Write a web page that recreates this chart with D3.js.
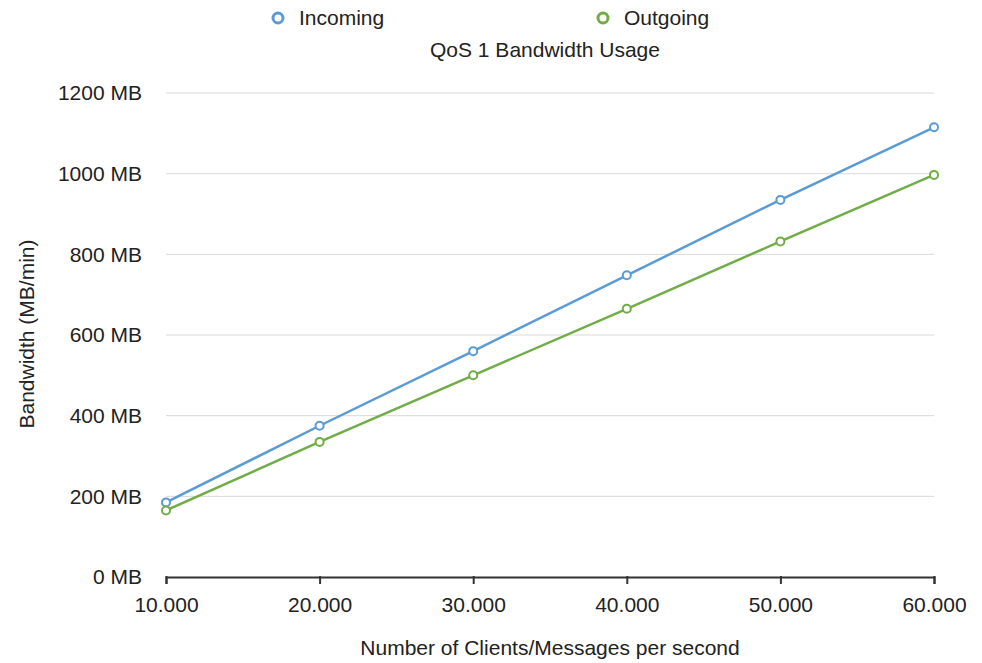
<!DOCTYPE html>
<html><head><meta charset="utf-8">
<script src="https://cdn.jsdelivr.net/npm/d3@7"></script>
<style>body{margin:0;background:#fff;} text{font-family:"Liberation Sans",Arial,sans-serif;fill:#222;}</style>
</head><body><svg id="c" width="982" height="663"></svg>
<script>
const categories = [10000, 20000, 30000, 40000, 50000, 60000];
const xTickLabels = ["10.000", "20.000", "30.000", "40.000", "50.000", "60.000"];
const incoming = [185, 375, 560, 748, 935, 1115];
const outgoing = [165, 335, 500, 665, 832, 997];
const yTicks = [0, 200, 400, 600, 800, 1000, 1200];
const seriesNames = ["Incoming", "Outgoing"];
const colors = ["#5b9bd5", "#70ad47"];

const FS = 21;
const svg = d3.select("#c");
const x = d3.scaleLinear().domain([10000, 60000]).range([166, 934]);
const y = d3.scaleLinear().domain([0, 1200]).range([577, 93]);

// gridlines
svg.append("g").selectAll("line").data(yTicks.filter(d => d > 0)).join("line")
  .attr("x1", 166).attr("x2", 934).attr("y1", d => y(d)).attr("y2", d => y(d))
  .attr("stroke", "#d9d9d9").attr("stroke-width", 1);

// y axis labels
svg.append("g").selectAll("text").data(yTicks).join("text")
  .attr("x", 142).attr("y", d => y(d)).attr("dy", "0.35em")
  .attr("text-anchor", "end").attr("font-size", FS).text(d => d + " MB");

// x axis
const xAxis = d3.axisBottom(x).tickValues(categories).tickSize(7)
  .tickFormat((d, i) => xTickLabels[i]);
const gx = svg.append("g").attr("transform", "translate(0,577)").call(xAxis);
gx.select(".domain").attr("stroke", "#333").attr("stroke-width", 2);
gx.selectAll(".tick line").attr("stroke", "#333").attr("stroke-width", 2).attr("y1", -1);
gx.selectAll(".tick text").attr("font-size", FS).attr("dy", "0.35em").attr("y", 28)
  .attr("font-family", "Liberation Sans, Arial, sans-serif").attr("fill", "#222");

// lines
const data = [incoming, outgoing];
const line = d3.line().x((d, i) => x(categories[i])).y(d => y(d));
data.forEach((s, k) => {
  svg.append("path").datum(s).attr("d", line).attr("fill", "none")
    .attr("stroke", colors[k]).attr("stroke-width", 2.5);
  svg.append("g").selectAll("circle").data(s).join("circle")
    .attr("cx", (d, i) => x(categories[i])).attr("cy", d => y(d)).attr("r", 4)
    .attr("fill", "#fff").attr("stroke", colors[k]).attr("stroke-width", 2);
});

// legend
const legX = [278, 603];
seriesNames.forEach((n, k) => {
  svg.append("circle").attr("cx", legX[k]).attr("cy", 18).attr("r", 5)
    .attr("fill", "#fff").attr("stroke", colors[k]).attr("stroke-width", 3);
  svg.append("text").attr("x", legX[k] + 21).attr("y", 18).attr("dy", "0.35em")
    .attr("font-size", FS).text(n);
});

// title
svg.append("text").attr("x", 545).attr("y", 50).attr("dy", "0.35em")
  .attr("text-anchor", "middle").attr("font-size", FS).text("QoS 1 Bandwidth Usage");

// axis titles
svg.append("text").attr("x", 550).attr("y", 648).attr("dy", "0.35em")
  .attr("text-anchor", "middle").attr("font-size", FS).text("Number of Clients/Messages per second");
svg.append("text").attr("transform", "translate(27,334) rotate(-90)").attr("dy", "0.35em")
  .attr("text-anchor", "middle").attr("font-size", FS).text("Bandwidth (MB/min)");
</script></body></html>
